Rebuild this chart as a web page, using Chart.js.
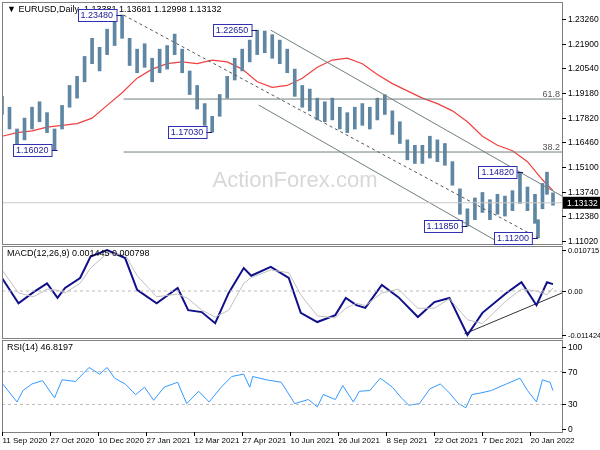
<!DOCTYPE html>
<html><head><meta charset="utf-8">
<script src="https://cdn.jsdelivr.net/npm/chart.js@4"></script>
<style>
body{margin:0;background:#fff;width:600px;height:450px;position:relative;overflow:hidden}
canvas{position:absolute;left:0}
</style></head><body>
<canvas id="c1" style="top:0" width="600" height="246"></canvas>
<canvas id="c2" style="top:244px" width="600" height="96"></canvas>
<canvas id="c3" style="top:338px" width="600" height="112"></canvas>
<script>
const priceBars=[0,5,10,15,20,25,30,35,40,45,50,55,60,65,70,75,80,85,90,95,100,105,110,115,120,125,130,135,140,145,150,155,160,165,170,175,180,185,190,195,200,205,210,215,220,225,230,235,240,245,250,255,260,265,270,275,280,285,290,295,300,305,310,315,320,325,330,335,340,345,350,355,357,360,363,367];
const priceLow=[1.180,1.172,1.161,1.166,1.172,1.176,1.170,1.1602,1.172,1.184,1.189,1.198,1.208,1.204,1.213,1.218,1.222,1.207,1.203,1.206,1.198,1.203,1.205,1.213,1.203,1.191,1.183,1.174,1.1703,1.179,1.189,1.199,1.204,1.209,1.213,1.214,1.211,1.208,1.203,1.190,1.184,1.182,1.177,1.176,1.177,1.172,1.170,1.172,1.174,1.172,1.177,1.180,1.169,1.164,1.155,1.153,1.153,1.156,1.154,1.152,1.141,1.125,1.1185,1.122,1.126,1.122,1.125,1.124,1.127,1.131,1.127,1.120,1.112,1.128,1.136,1.1300];
const priceHigh=[1.190,1.184,1.172,1.178,1.184,1.187,1.181,1.172,1.185,1.196,1.201,1.212,1.222,1.217,1.227,1.231,1.2348,1.222,1.216,1.219,1.211,1.216,1.218,1.2243,1.216,1.204,1.196,1.186,1.179,1.191,1.201,1.211,1.216,1.221,1.2265,1.226,1.224,1.221,1.216,1.205,1.196,1.194,1.189,1.187,1.189,1.184,1.181,1.184,1.186,1.184,1.189,1.1909,1.182,1.176,1.166,1.163,1.163,1.168,1.166,1.164,1.154,1.139,1.128,1.134,1.137,1.133,1.136,1.135,1.138,1.1482,1.140,1.136,1.122,1.142,1.1482,1.1368];
const maIdx=[0,10,20,30,40,50,60,70,80,90,100,110,120,130,140,150,160,170,180,190,200,210,220,230,240,250,260,270,280,290,300,310,320,330,340,350,360,367];
const maVal=[1.168,1.170,1.171,1.173,1.174,1.175,1.178,1.185,1.192,1.200,1.205,1.208,1.209,1.208,1.210,1.209,1.205,1.198,1.195,1.196,1.200,1.206,1.210,1.211,1.208,1.202,1.197,1.193,1.189,1.186,1.182,1.176,1.168,1.163,1.160,1.154,1.144,1.138];
const macdBars=[0,11,21,30,37,42,52,59,70,82,90,103,117,124,133,142,151,161,166,179,191,199,210,222,229,236,242,253,264,277,288,298,310,320,336,346,356,363,367];
const macdValues=[0.0034,-0.0032,-0.0003,0.002,-0.0018,0.0008,0.0034,0.009,0.0107,0.0086,0.0003,-0.0032,0.0008,-0.005,-0.0055,-0.0084,-0.0005,0.006,0.004,0.0063,0.0034,-0.0057,-0.0081,-0.0063,-0.0018,-0.0037,-0.0044,0.0016,-0.0016,-0.0068,-0.0029,-0.0018,-0.0115,-0.0057,-0.0005,0.0023,-0.0037,0.0023,0.0018];
const signalValues=[0.0055,-0.0005,-0.0015,0.0005,0.0002,-0.0005,0.002,0.006,0.0098,0.0095,0.004,-0.0015,-0.0008,-0.002,-0.005,-0.0068,-0.005,0.002,0.0035,0.0055,0.0048,-0.001,-0.0065,-0.007,-0.0045,-0.0032,-0.0038,-0.0005,0.0005,-0.0045,-0.0045,-0.002,-0.0075,-0.0085,-0.0025,0.0005,0.0,-0.001,0.0008];
const rsiBars=[0,10,14,20,27,35,40,49,58,65,70,75,82,89,95,101,108,117,123,131,138,146,153,161,165,167,176,186,195,204,210,214,222,227,234,238,245,252,260,266,271,278,285,292,298,304,309,313,319,326,336,345,350,356,360,365,367];
const rsiValues=[56,33,47,55,59,38,60,58,75,67,75,62,55,42,51,35,51,57,31,46,33,51,64,67,51,64,60,57,31,36,27,42,36,53,33,46,47,62,51,38,29,31,49,55,44,31,26,42,44,47,55,62,47,33,60,57,47];
const dateBars=[0,32,64,96,128,160,192,224,256,288,320,352];
const dateLabels=['11 Sep 2020','27 Oct 2020','10 Dec 2020','27 Jan 2021','12 Mar 2021','27 Apr 2021','10 Jun 2021','26 Jul 2021','8 Sep 2021','22 Oct 2021','7 Dec 2021','20 Jan 2022'];
const priceTicks=[1.23260,1.21900,1.20540,1.19180,1.17820,1.16460,1.15100,1.13740,1.12380,1.11020];
const priceTickLabels=['1.23260','1.21900','1.20540','1.19180','1.17820','1.16460','1.15100','1.13740','1.12380','1.11020'];
const macdTicks=[0.010715,0,-0.011424];
const macdTickLabels=['0.010715','0.00','-0.011424'];
const rsiTicks=[100,70,30,0];
const rsiTickLabels=['100','70','30','0'];
const priceTags=[{bar:80,p:1.2348,t:'1.23480'},{bar:170,p:1.2265,t:'1.22650'},{bar:140,p:1.1703,t:'1.17030'},{bar:37,p:1.1602,t:'1.16020'},{bar:310,p:1.1185,t:'1.11850'},{bar:347,p:1.1482,t:'1.14820'},{bar:357,p:1.1120,t:'1.11200'}];
const lastClose=1.13132;
const fibLevels=[1.1885,1.1593];const fibNames=['61.8','38.2'];
const FONT='"Liberation Sans", Arial, sans-serif';
const XMAX=373;
function xs(){return {type:'linear',min:0,max:XMAX,display:false,offset:false};}
function ys(min,max){return {type:'linear',min,max,display:false};}
function frame(title,ticks,labels,fs){return {id:'frame',afterDraw(c){const a=c.chartArea,x=c.ctx;x.save();x.strokeStyle='#808080';x.lineWidth=1;x.strokeRect(a.left+0.5,a.top+0.5,a.right-a.left,a.bottom-a.top);
 x.strokeStyle='#000';x.fillStyle='#000';x.font=fs+'px '+FONT;x.textBaseline='middle';const s=c.scales.y;
 ticks.forEach((v,i)=>{const y=Math.round(s.getPixelForValue(v))+0.5;x.beginPath();x.moveTo(a.right,y);x.lineTo(a.right+4,y);x.stroke();x.fillText(labels[i],a.right+6,y);});
 x.font='9px '+FONT;x.fillText(title,a.left+5,a.top+8);x.restore();}};}
const line=(bars,vals,color,w,dash)=>({type:'line',data:bars.map((b,i)=>({x:b,y:vals[i]})),borderColor:color,borderWidth:w,pointRadius:0,borderDash:dash||[],tension:0});
const base={animation:false,responsive:false,plugins:{legend:{display:false},tooltip:{enabled:false}}};
const pad=(t,b)=>({padding:{left:2,right:38,top:t,bottom:b}});
new Chart(document.getElementById('c1'),{type:'bar',data:{datasets:[
 line([0,XMAX],[lastClose,lastClose],'#c8c8c8',1),
 line([81,XMAX],[fibLevels[0],fibLevels[0]],'#6f7f7f',1),
 line([81,XMAX],[fibLevels[1],fibLevels[1]],'#6f7f7f',1),
 line([179,XMAX],[1.2265,1.1350],'#6f7f7f',1),
 line([171,332],[1.1852,1.1090],'#6f7f7f',1),
 line([81,357],[1.2348,1.1120],'#555',1,[3,3]),
 {type:'bar',data:priceBars.map((b,i)=>({x:b,y:[priceLow[i],priceHigh[i]]})),backgroundColor:'#5f86a3',barThickness:3},
 line(maIdx,maVal,'#f04040',1.2)
]},options:{...base,layout:pad(2,2),scales:{x:xs(),y:ys(1.1086,1.2420)}},
plugins:[frame('▼ EURUSD,Daily  1.13381 1.13681 1.12998 1.13132',priceTicks,priceTickLabels,8.5),{id:'over',beforeDatasetsDraw(c){const x=c.ctx;x.save();x.font='22px '+FONT;x.fillStyle='#d8d8d8';x.textAlign='center';x.textBaseline='middle';x.fillText('ActionForex.com',295,181);x.restore();},
 afterDraw(c){const x=c.ctx,sx=c.scales.x,sy=c.scales.y,a=c.chartArea;x.save();x.font='9px '+FONT;x.textBaseline='middle';
 fibLevels.forEach((l,i)=>{x.fillStyle='#555';x.textAlign='right';x.fillText(fibNames[i],a.right-2,sy.getPixelForValue(l)-5);});
 x.textAlign='left';
 priceTags.forEach(t=>{const px=sx.getPixelForValue(t.bar),py=Math.round(sy.getPixelForValue(t.p))+0.5;const w=x.measureText(t.t).width+6;const bx=px-w-6;
  x.strokeStyle='#1a1a6e';x.beginPath();x.moveTo(bx+w,py);x.lineTo(px,py);x.stroke();
  x.fillStyle='#fff';x.fillRect(bx,py-6,w,12);x.strokeStyle='#3030b0';x.strokeRect(Math.round(bx)+0.5,py-6,w,12);x.fillStyle='#2020a0';x.fillText(t.t,bx+3,py+0.5);});
 x.font='8.5px '+FONT;const cy=sy.getPixelForValue(lastClose);x.fillStyle='#000';x.fillRect(a.right+1,cy-6,37,12);x.fillStyle='#fff';x.fillText('1.13132',a.right+5,cy+0.5);x.restore();}}]});
new Chart(document.getElementById('c2'),{type:'line',data:{datasets:[
 line([0,XMAX],[0,0],'#bbb',1,[3,3]),
 line(macdBars,signalValues,'#c0c0c0',1),
 line(macdBars,macdValues,'#10108a',2),
 line([308,XMAX],[-0.0112,-0.0005],'#333',1)
]},options:{...base,layout:pad(2,2),scales:{x:xs(),y:ys(-0.01227,0.01176)}},plugins:[frame('MACD(12,26,9) 0.001445 0.000798',macdTicks,macdTickLabels,7.5)]});
new Chart(document.getElementById('c3'),{type:'line',data:{datasets:[
 line([0,XMAX],[70,70],'#bbb',1,[3,3]),
 line([0,XMAX],[30,30],'#bbb',1,[3,3]),
 line(rsiBars,rsiValues,'#3399ff',1)
]},options:{...base,layout:pad(2,18),scales:{x:xs(),y:ys(-3.6,108.5)}},
plugins:[frame('RSI(14) 46.8197',rsiTicks,rsiTickLabels,8.5),{id:'dates',afterDraw(c){const x=c.ctx,sx=c.scales.x,a=c.chartArea;x.save();x.font='8px '+FONT;x.fillStyle='#000';x.strokeStyle='#000';x.textBaseline='top';
 dateBars.forEach((b,i)=>{const px=Math.round(sx.getPixelForValue(b))+0.5;x.beginPath();x.moveTo(px,a.bottom);x.lineTo(px,a.bottom+4);x.stroke();x.fillText(dateLabels[i],px,a.bottom+5);});x.restore();}}]});
</script></body></html>
